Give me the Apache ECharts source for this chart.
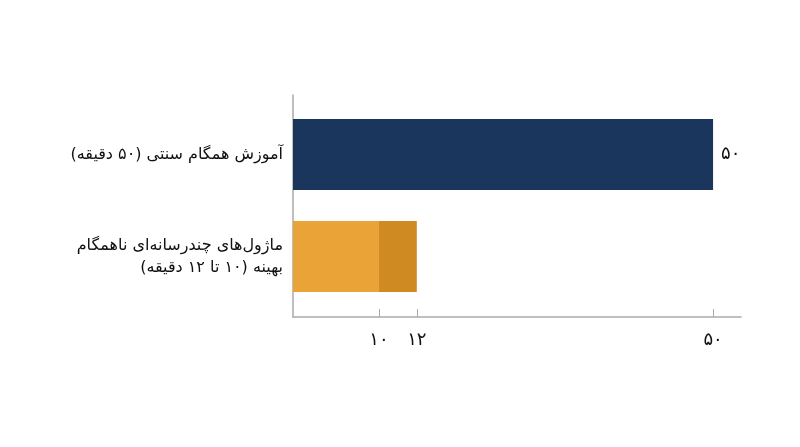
<!DOCTYPE html>
<html>
<head>
<meta charset="utf-8">
<script src="https://cdn.jsdelivr.net/npm/echarts@6.0.0/dist/echarts.min.js"></script>
<style>
  html, body { margin: 0; padding: 0; background: #fff; }
  #chart { width: 800px; height: 447px; }
</style>
</head>
<body>
<div id="chart" dir="rtl"></div>
<script>
const categories = [
  'آموزش همگام سنتی (۵۰ دقیقه)',
  'ماژول\u200cهای چندرسانه\u200cای ناهمگام\nبهینه (۱۰ تا ۱۲ دقیقه)'
];
const traditionalMinutes = [50, null];
const moduleMinMinutes = [null, 10];
const moduleExtraMinutes = [null, 2];
const tickValues = [10, 12, 50];

const fontFamily = '"DejaVu Sans", sans-serif';
const axisColor = '#aaaaaa';
const textColor = '#111111';
const logMin = 6.61;
const logMax = 57.2;

function toPersianDigits(value) {
  return String(value).replace(/[0-9]/g, d => '۰۱۲۳۴۵۶۷۸۹'[d]);
}

const chart = echarts.init(document.getElementById('chart'));

const option = {
  backgroundColor: '#ffffff',
  animation: false,
  grid: [
    // outer frame: axis lines, ticks and tick labels
    { left: 293, right: 59, top: 95, bottom: 130 },
    // inner area where the bars sit
    { left: 293, right: 59, top: 103.5, bottom: 139.5 }
  ],
  xAxis: [
    {
      gridIndex: 0,
      type: 'log',
      min: logMin,
      max: logMax,
      splitLine: { show: false },
      minorTick: { show: false },
      axisLine: { show: true, lineStyle: { color: axisColor, width: 1.5 } },
      axisTick: {
        show: true,
        inside: true,
        length: 8,
        customValues: tickValues,
        lineStyle: { color: axisColor }
      },
      axisLabel: {
        customValues: tickValues,
        margin: 14,
        color: textColor,
        fontSize: 18,
        fontFamily: fontFamily,
        formatter: v => toPersianDigits(v)
      }
    },
    {
      gridIndex: 1,
      type: 'log',
      min: logMin,
      max: logMax,
      show: false
    }
  ],
  yAxis: [
    {
      gridIndex: 0,
      type: 'value',
      min: 0,
      max: 1,
      splitLine: { show: false },
      axisLine: { show: true, lineStyle: { color: axisColor, width: 1.5 } },
      axisTick: { show: false },
      axisLabel: { show: false }
    },
    {
      gridIndex: 1,
      type: 'category',
      inverse: true,
      data: categories,
      axisLine: { show: false },
      axisTick: { show: false },
      axisLabel: {
        margin: 10,
        color: textColor,
        fontSize: 16,
        lineHeight: 22,
        padding: [8, 0, 0, 0],
        fontFamily: fontFamily,
        align: 'right'
      }
    }
  ],
  series: [
    {
      name: 'traditional',
      type: 'bar',
      xAxisIndex: 1,
      yAxisIndex: 1,
      data: traditionalMinutes,
      barWidth: 71,
      barGap: '-100%',
      itemStyle: { color: '#1b365d' },
      label: {
        show: true,
        position: 'right',
        distance: 8,
        padding: [5, 0, 0, 0],
        color: textColor,
        fontSize: 18,
        fontFamily: fontFamily,
        formatter: p => toPersianDigits(p.value)
      }
    },
    {
      name: 'moduleMin',
      type: 'bar',
      xAxisIndex: 1,
      yAxisIndex: 1,
      stack: 'module',
      data: moduleMinMinutes,
      barWidth: 71,
      barGap: '-100%',
      itemStyle: { color: '#e9a336' }
    },
    {
      name: 'moduleExtra',
      type: 'bar',
      xAxisIndex: 1,
      yAxisIndex: 1,
      stack: 'module',
      data: moduleExtraMinutes,
      barWidth: 71,
      barGap: '-100%',
      itemStyle: { color: '#cf8a22' }
    }
  ]
};

chart.setOption(option);
</script>
</body>
</html>
